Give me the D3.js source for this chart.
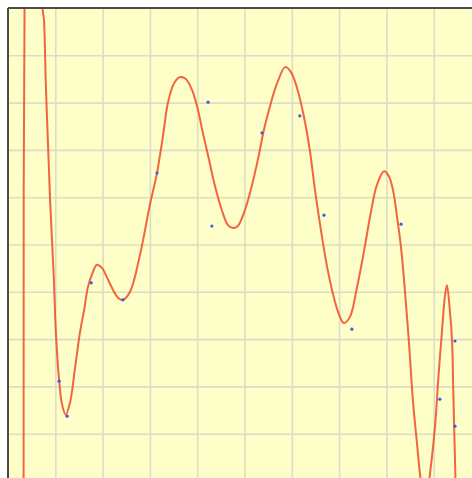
<!DOCTYPE html>
<html>
<head>
<meta charset="utf-8">
<script src="https://cdn.jsdelivr.net/npm/d3@7/dist/d3.min.js"></script>
<style>
  html, body { margin: 0; padding: 0; background: #ffffff; }
  svg { display: block; }
</style>
</head>
<body>
<script>
// Sample observations (x, y in grid units)
const pointX = [1.08, 1.25, 1.76, 2.43, 3.15, 4.23, 4.31, 5.37, 6.17, 6.68, 7.27, 8.31, 9.13, 9.45, 9.45];
const pointY = [2.11, 1.37, 4.19, 3.83, 6.51, 8.01, 5.39, 7.36, 7.72, 5.62, 3.21, 5.43, 1.73, 2.96, 1.16];

// Fitted curve, traced as (x, y) pairs in grid units
const curveX = [0.30, 0.33, 0.35, 0.53, 0.73, 0.76, 0.80, 0.85, 0.89, 0.93, 0.97, 1.00, 1.04, 1.08, 1.14,
  1.22, 1.31, 1.42, 1.52, 1.61, 1.69, 1.78, 1.88, 1.99, 2.09, 2.22, 2.33, 2.43, 2.58, 2.79,
  3.00, 3.15, 3.28, 3.38, 3.51, 3.64, 3.76, 3.89, 4.00, 4.12, 4.25, 4.38, 4.52, 4.65, 4.76,
  4.86, 5.01, 5.16, 5.29, 5.41, 5.54, 5.69, 5.86, 5.98, 6.11, 6.24, 6.38, 6.49, 6.60, 6.72,
  6.85, 6.98, 7.10, 7.23, 7.36, 7.53, 7.67, 7.80, 7.95, 8.05, 8.14, 8.22, 8.31, 8.39, 8.48,
  8.56, 8.65, 8.73, 8.82, 8.93, 9.03, 9.10, 9.18, 9.24, 9.28, 9.34, 9.39, 9.41, 9.43, 9.46, 9.49];
const curveY = [-2.52, 0.06, 10.00, 18.63, 10.00, 9.75, 8.37, 7.00, 5.94, 5.10, 4.25, 3.40, 2.66, 2.14, 1.63,
  1.40, 1.65, 2.41, 3.13, 3.62, 4.10, 4.38, 4.57, 4.50, 4.31, 4.04, 3.87, 3.83, 4.00, 4.78,
  5.84, 6.51, 7.32, 7.99, 8.41, 8.54, 8.50, 8.27, 7.91, 7.36, 6.79, 6.22, 5.73, 5.41, 5.35,
  5.39, 5.73, 6.26, 6.83, 7.42, 7.93, 8.41, 8.75, 8.65, 8.31, 7.78, 7.00, 6.15, 5.41, 4.67,
  4.04, 3.57, 3.34, 3.47, 4.00, 4.88, 5.67, 6.26, 6.55, 6.45, 6.15, 5.62, 4.93, 4.04, 2.88,
  1.71, 0.76, -0.02, -0.51, 0.23, 1.18, 2.20, 3.23, 3.93, 4.14, 3.62, 2.92, 2.07, 1.23, 0.06, -2.52];

const gridTicks = [1, 2, 3, 4, 5, 6, 7, 8, 9];

const W = 472, H = 478;
const plotLeft = 8, plotTop = 8, plotSize = 473;

const svg = d3.select("body").append("svg")
  .attr("width", W).attr("height", H);

const x = d3.scaleLinear().domain([0, 10]).range([plotLeft, plotLeft + plotSize]);
const y = d3.scaleLinear().domain([0, 10]).range([plotTop + plotSize, plotTop]);

svg.append("defs").append("clipPath").attr("id", "plot-clip")
  .append("rect").attr("x", plotLeft).attr("y", plotTop)
  .attr("width", plotSize).attr("height", plotSize);

// plot background
svg.append("rect")
  .attr("x", plotLeft).attr("y", plotTop).attr("width", plotSize).attr("height", plotSize)
  .attr("fill", "#fefec8");

// grid lines via axes with full-length ticks
const gridColor = "#dedcc4";
const gx = svg.append("g")
  .attr("transform", `translate(0,${plotTop + plotSize})`)
  .call(d3.axisBottom(x).tickValues(gridTicks).tickSize(-plotSize).tickFormat(""));
const gy = svg.append("g")
  .attr("transform", `translate(${plotLeft},0)`)
  .call(d3.axisLeft(y).tickValues(gridTicks).tickSize(-plotSize).tickFormat(""));
[gx, gy].forEach(g => {
  g.select(".domain").remove();
  g.selectAll(".tick line").attr("stroke", gridColor).attr("stroke-width", 1.6);
});

const plot = svg.append("g").attr("clip-path", "url(#plot-clip)");

const curveData = curveX.map((v, i) => [v, curveY[i]]);
const line = d3.line()
  .x(d => x(d[0]))
  .y(d => y(d[1]))
  .curve(d3.curveCatmullRom.alpha(0.5));

plot.append("path")
  .datum(curveData)
  .attr("d", line)
  .attr("fill", "none")
  .attr("stroke", "#f04a28")
  .attr("stroke-opacity", 0.85)
  .attr("stroke-width", 2);

plot.selectAll("circle.pt")
  .data(pointX.map((v, i) => [v, pointY[i]]))
  .join("circle")
  .attr("class", "pt")
  .attr("cx", d => x(d[0]))
  .attr("cy", d => y(d[1]))
  .attr("r", 1.6)
  .attr("fill", "#3b5cf2");

// frame: top and left edges
svg.append("line")
  .attr("x1", plotLeft).attr("x2", W).attr("y1", plotTop).attr("y2", plotTop)
  .attr("stroke", "#4a4a4a").attr("stroke-width", 2);
svg.append("line")
  .attr("x1", plotLeft).attr("x2", plotLeft).attr("y1", plotTop).attr("y2", H)
  .attr("stroke", "#4a4a4a").attr("stroke-width", 2);
</script>
</body>
</html>
